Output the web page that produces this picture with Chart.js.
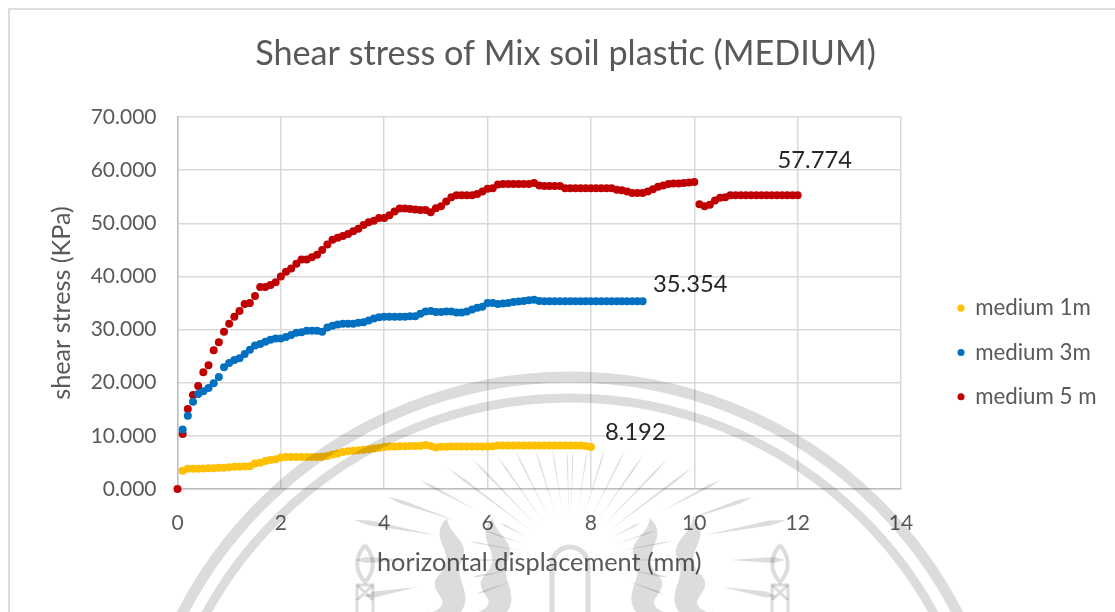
<!DOCTYPE html>
<html><head><meta charset="utf-8">
<style>html,body{margin:0;padding:0;background:#fff}canvas{display:block}</style>
<script src="https://cdn.jsdelivr.net/npm/chart.js@4"></script>
</head><body><div style="width:1115px;height:612px"><canvas id="c" width="1115" height="612"></canvas></div>
<script>
const titleText = "Shear stress of Mix soil plastic (MEDIUM)";
const xTitle = "horizontal displacement (mm)";
const yTitle = "shear stress (KPa)";
const seriesNames = ["medium 1m","medium 3m","medium 5 m"];
const seriesColors = ["#FFC000","#0070C0","#C00000"];
const xStep = 0.1;
const medium1 = [3.45,3.8,3.8,3.8,3.85,3.9,3.9,4.0,4.0,4.1,4.2,4.2,4.25,4.3,4.8,4.95,5.25,5.45,5.6,5.95,6.0,6.0,6.0,6.0,6.0,6.0,6.0,6.05,6.2,6.5,6.7,6.95,7.1,7.2,7.3,7.4,7.5,7.6,7.7,7.9,8.0,8.0,8.05,8.05,8.1,8.1,8.1,8.3,8.1,7.8,7.95,7.95,8.0,8.0,8.0,8.0,8.0,8.0,8.0,8.0,8.05,8.19,8.19,8.19,8.19,8.19,8.19,8.19,8.19,8.19,8.19,8.19,8.19,8.19,8.19,8.19,8.19,8.19,8.1,7.9];
const medium3 = [11.2,13.8,16.4,17.9,18.4,19.0,19.9,21.1,22.9,23.7,24.3,24.6,25.4,26.2,27.0,27.3,27.7,28.1,28.3,28.3,28.6,29.0,29.4,29.5,29.8,29.8,29.8,29.6,30.4,30.7,30.95,31.1,31.1,31.1,31.3,31.4,31.7,32.1,32.3,32.4,32.4,32.4,32.4,32.4,32.5,32.5,33.0,33.4,33.5,33.3,33.3,33.4,33.4,33.2,33.2,33.4,33.8,34.1,34.3,35.0,35.0,34.8,34.9,35.0,35.2,35.3,35.4,35.5,35.6,35.4,35.354,35.354,35.354,35.354,35.354,35.354,35.354,35.354,35.354,35.354,35.354,35.354,35.354,35.354,35.354,35.354,35.354,35.354,35.354,35.354];
const medium5 = [0,10.36,15.07,17.7,19.4,21.95,23.3,26.1,27.6,29.6,31.1,32.4,33.5,34.8,35.0,36.3,38.0,38.0,38.4,38.9,40.0,40.9,41.5,42.4,43.2,43.2,43.6,44.1,45.0,46.0,46.9,47.3,47.6,48.0,48.5,49.0,49.7,50.2,50.5,51.0,51.0,51.5,52.2,52.8,52.8,52.7,52.6,52.5,52.5,52.1,52.85,53.2,54.1,54.9,55.3,55.3,55.3,55.3,55.5,56.0,56.5,56.6,57.3,57.4,57.4,57.4,57.4,57.4,57.4,57.6,57.1,57.0,57.0,57.0,57.0,56.6,56.6,56.6,56.6,56.6,56.6,56.6,56.6,56.6,56.6,56.3,56.2,56.0,55.7,55.7,55.7,56.0,56.4,56.9,57.1,57.4,57.5,57.5,57.6,57.7,57.774,53.6,53.2,53.5,54.3,54.8,54.9,55.3,55.3,55.3,55.3,55.3,55.3,55.3,55.3,55.3,55.3,55.3,55.3,55.3,55.3];
const medium1Start = 0.1, medium3Start = 0.1, medium5Start = 0;
const labelTexts = ["8.192","35.354","57.774"];
const labelAnchors = [[8.27,10.7],[9.2,38.6],[11.61,61.9]];
const yMax = 70, yTickStep = 10, xMax = 14, xTickStep = 2;

const toPts = (arr, s) => arr.map((v,i)=>({x:+(s+i*xStep).toFixed(2),y:v}));
const FONT = "Lato";
const TXT = "#595959";

const layoutPlugin = {
  id:"layoutPlugin",
  beforeLayout(chart){
    const lg = chart.legend;
    if(!lg._wrapped){ const f = lg.fit; lg.fit = function(){ f.call(this); this.width = 200; }; lg._wrapped = true; }
  },
  afterLayout(chart){ chart.legend.left = 936; chart.legend.top = 275; },
};
const framePlugin = {
  id:"framePlugin",
  beforeDraw(chart){
    const c = chart.ctx; c.save();
    c.strokeStyle="#dedede"; c.lineWidth=2;
    c.strokeRect(9,9,1300,800);
    c.restore();
  }
};
const labelPlugin = {
  id:"labelPlugin",
  afterDatasetsDraw(chart){
    const c = chart.ctx, sx = chart.scales.x, sy = chart.scales.y;
    c.save(); c.font = "23.8px "+FONT; c.fillStyle="#262626"; c.textAlign="left"; c.textBaseline="middle";
    labelTexts.forEach((t,i)=>c.fillText(t, sx.getPixelForValue(labelAnchors[i][0]), sy.getPixelForValue(labelAnchors[i][1])));
    c.restore();
  }
};
// decorative seal watermark of the source document
const rayAngles = [1.5,9,17.4,26.6,35,44,53,62,71,79.5];
const rayEnds   = [112,114,117,123,128,141,154,170,193,220];
const rayWidth  = [1.2,1.2,1.5,1.6,1.8,2,2.5,3,4,5];
const sealPlugin = {
  id:"sealPlugin",
  afterDraw(chart){
    const c = chart.ctx; c.save();
    c.globalCompositeOperation="multiply";
    const G="#dcdcdc"; c.strokeStyle=G; c.fillStyle=G;
    const cx=570, cy=560;
    c.lineWidth=11; c.beginPath(); c.arc(cx,813,436,Math.PI,2*Math.PI); c.stroke();
    c.lineWidth=9; c.beginPath(); c.arc(cx,813,415,Math.PI,2*Math.PI); c.stroke();
    const ray=(aDeg,r0,r1,w)=>{
      const a=aDeg*Math.PI/180, s=Math.sin(a), k=Math.cos(a);
      c.beginPath();
      c.moveTo(cx+s*r0,cy-k*r0);
      c.lineTo(cx+s*(r0+(r1-r0)*0.8)+k*w/2,cy-k*(r0+(r1-r0)*0.8)+s*w/2);
      c.lineTo(cx+s*r1,cy-k*r1);
      c.lineTo(cx+s*(r0+(r1-r0)*0.8)-k*w/2,cy-k*(r0+(r1-r0)*0.8)-s*w/2);
      c.closePath(); c.fill();
    };
    rayAngles.forEach((a,i)=>{
      const start = a>60 ? rayEnds[i]*0.62 : 46;
      [a,-a].forEach(v=>ray(v,start,rayEnds[i],rayWidth[i]));
      if(a>60){ [a,-a].forEach(v=>ray(v,48,rayEnds[i]*0.47,1.5)); }
    });
    [90,100,110].forEach((a,i)=>[a,-a].forEach(v=>{ ray(v,160-i*5,215-i*5,6); ray(v,62,100,2); }));
    // arch
    c.lineWidth=5; c.beginPath(); c.moveTo(552,612); c.lineTo(552,565); c.arc(570,565,18,Math.PI,2*Math.PI); c.lineTo(588,612); c.stroke();
    // candles
    c.lineWidth=3;
    [365,780].forEach(x=>{
      c.strokeRect(x-8,585,16,30);
      c.beginPath(); c.moveTo(x-8,585); c.lineTo(x+8,600); c.moveTo(x+8,585); c.lineTo(x-8,600); c.stroke();
      c.lineWidth=4;
      c.beginPath(); c.moveTo(x,545); c.bezierCurveTo(x+14,562,x+6,576,x,582); c.bezierCurveTo(x-6,576,x-14,562,x,545); c.stroke();
      c.lineWidth=3;
    });
    // flames
    const flame=(x,dir)=>{
      c.beginPath(); c.moveTo(x,518);
      c.bezierCurveTo(x-dir*22,540,x+dir*14,552,x-dir*8,575);
      c.bezierCurveTo(x-dir*24,592,x+dir*12,600,x-dir*14,612);
      c.lineTo(x+dir*14,612);
      c.bezierCurveTo(x+dir*28,592,x+dir*4,578,x+dir*16,558);
      c.bezierCurveTo(x+dir*22,540,x+dir*2,535,x,518);
      c.closePath(); c.fill();
    };
    flame(447,1); flame(493,1); flame(650,-1); flame(693,-1);
    c.restore();
  }
};

const dotStyle = {pointRadius:4,pointBorderWidth:0,showLine:false,clip:false};
new Chart(document.getElementById("c"),{
  type:"scatter",
  data:{datasets:[
    {label:seriesNames[0],data:toPts(medium1,medium1Start),backgroundColor:seriesColors[0],borderColor:seriesColors[0],...dotStyle},
    {label:seriesNames[1],data:toPts(medium3,medium3Start),backgroundColor:seriesColors[1],borderColor:seriesColors[1],...dotStyle},
    {label:seriesNames[2],data:toPts(medium5,medium5Start),backgroundColor:seriesColors[2],borderColor:seriesColors[2],...dotStyle}
  ]},
  options:{
    responsive:false,animation:false,
    layout:{padding:{left:30,right:14,top:0,bottom:30}},
    plugins:{
      title:{display:true,text:titleText,color:TXT,font:{family:FONT,size:34.2,weight:"normal",lineHeight:1.2},padding:{top:33.5,bottom:42.5}},
      legend:{display:true,position:"right",align:"start",labels:{usePointStyle:true,pointStyle:"circle",boxWidth:6,boxHeight:5,padding:22,color:TXT,font:{family:FONT,size:22.3}}},
      tooltip:{enabled:false}
    },
    scales:{
      x:{type:"linear",min:0,max:xMax,
        ticks:{stepSize:xTickStep,color:TXT,font:{family:FONT,size:21},padding:22,maxRotation:0},
        grid:{color:"#d9d9d9",lineWidth:1.5,drawTicks:false},border:{color:"#bfbfbf",width:1.5},
        title:{display:true,text:xTitle,color:TXT,font:{family:FONT,size:25.3},padding:{top:0,bottom:4}},
        afterFit(s){s.height=93;}},
      y:{type:"linear",min:0,max:yMax,
        ticks:{stepSize:yTickStep,color:TXT,font:{family:FONT,size:21},padding:21,callback:v=>v.toFixed(3)},
        grid:{color:"#d9d9d9",lineWidth:1.5,drawTicks:false},border:{color:"#bfbfbf",width:1.5},
        title:{display:true,text:yTitle,color:TXT,font:{family:FONT,size:25.2},padding:{top:17,bottom:0}},
        afterFit(s){s.width=147.5;}}
    }
  },
  plugins:[layoutPlugin,framePlugin,labelPlugin,sealPlugin]
});
</script></body></html>
